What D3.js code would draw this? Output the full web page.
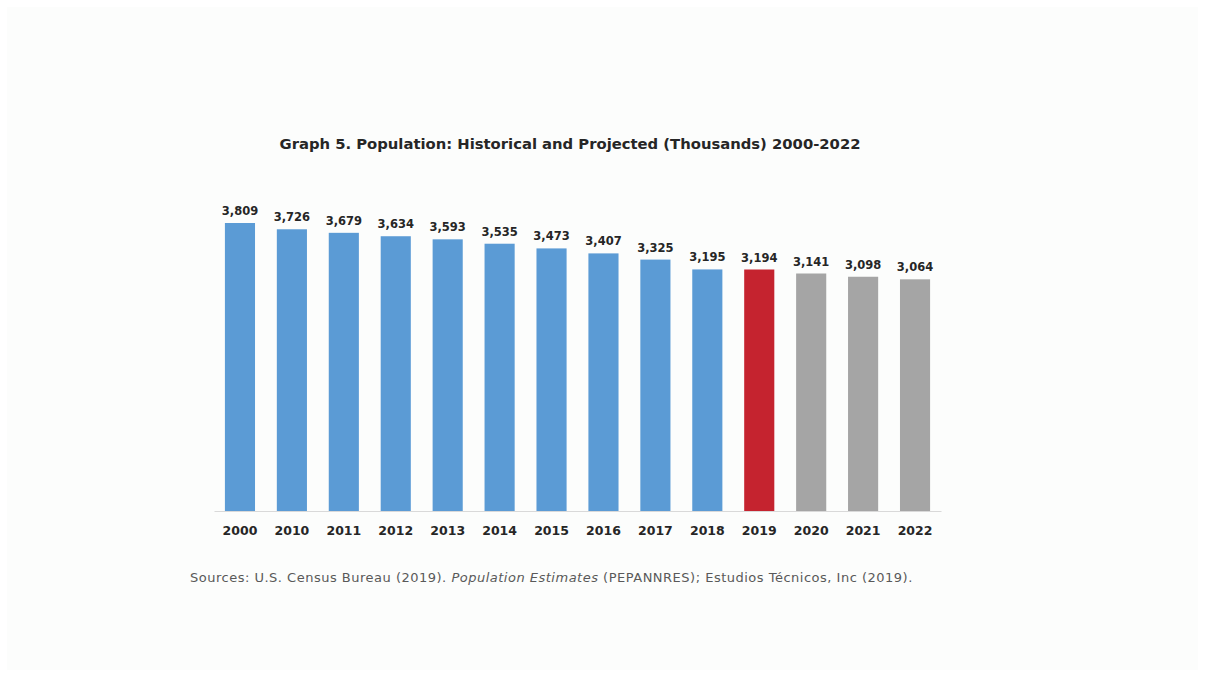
<!DOCTYPE html>
<html><head><meta charset="utf-8">
<script src="https://cdn.jsdelivr.net/npm/d3@7"></script>
<style>body{margin:0;background:#fff;} svg{display:block;}</style>
</head><body>
<svg id="c" width="1205" height="677"></svg>
<script>
const categories = ["2000","2010","2011","2012","2013","2014","2015","2016","2017","2018","2019","2020","2021","2022"];
const values = [3809,3726,3679,3634,3593,3535,3473,3407,3325,3195,3194,3141,3098,3064];
const kinds = ["hist","hist","hist","hist","hist","hist","hist","hist","hist","hist","current","proj","proj","proj"];
const colors = {hist:"#5b9bd5", current:"#c5232f", proj:"#a5a5a5"};
const title = "Graph 5. Population: Historical and Projected (Thousands) 2000-2022";

const svg = d3.select("#c");
svg.append("rect").attr("x",7).attr("y",7).attr("width",1191).attr("height",663).attr("fill","#fcfdfc");

const x = d3.scaleBand().domain(categories).range([214,941]).paddingInner(0.42).paddingOuter(0.21);
const y = d3.scaleLinear().domain([0,3809]).range([511,223]);

svg.append("text").attr("x",570).attr("y",149).attr("text-anchor","middle")
  .attr("font-family","DejaVu Sans").attr("font-weight","bold").attr("font-size",13.5).attr("fill","#262626")
  .attr("textLength",581).attr("lengthAdjust","spacingAndGlyphs").text(title);

const data = categories.map((c,i)=>({c, v:values[i], k:kinds[i]}));
svg.selectAll("rect.bar").data(data).join("rect").attr("class","bar")
  .attr("x",d=>x(d.c)).attr("width",x.bandwidth())
  .attr("y",d=>y(d.v)).attr("height",d=>y(0)-y(d.v)).attr("fill",d=>colors[d.k]);

const fmt = d3.format(",");
svg.selectAll("text.val").data(data).join("text").attr("class","val")
  .attr("x",d=>x(d.c)+x.bandwidth()/2).attr("y",d=>y(d.v)-8)
  .attr("text-anchor","middle").attr("font-family","DejaVu Sans").attr("font-weight","bold")
  .attr("font-size",11.5).attr("fill","#262626").text(d=>fmt(d.v));

const ax = svg.append("g").attr("transform","translate(0,511)").call(d3.axisBottom(x).tickSize(0).tickPadding(15));
ax.select(".domain").attr("stroke","#d9d9d9");
ax.selectAll("text").attr("font-family","DejaVu Sans").attr("font-weight","bold").attr("font-size",12.5).attr("fill","#262626");

const src = svg.append("text").attr("x",190).attr("y",582).attr("font-family","DejaVu Sans")
  .attr("font-size",13).attr("letter-spacing",0.5).attr("fill","#595959");
src.append("tspan").text("Sources: U.S. Census Bureau (2019). ");
src.append("tspan").attr("font-style","italic").text("Population Estimates");
src.append("tspan").text(" (PEPANNRES); Estudios Técnicos, Inc (2019).");
</script>
</body></html>
